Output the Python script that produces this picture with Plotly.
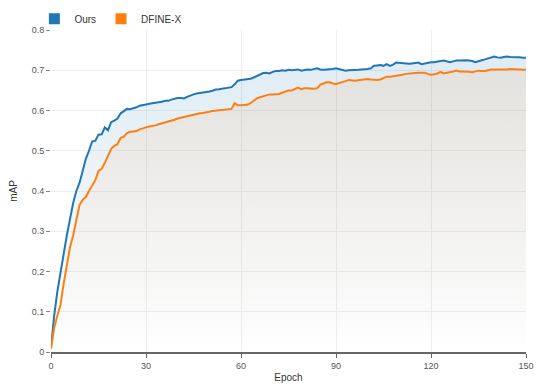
import plotly.graph_objects as go

# epochs 0..150
epochs = list(range(151))

ours = [
    0.010, 0.090, 0.150, 0.200, 0.250, 0.290, 0.330, 0.370, 0.400, 0.420,
    0.450, 0.480, 0.500, 0.523, 0.525, 0.540, 0.541, 0.558, 0.551, 0.571,
    0.575, 0.580, 0.593, 0.598, 0.604, 0.603, 0.605, 0.608, 0.612, 0.613,
    0.615, 0.617, 0.618, 0.620, 0.621, 0.622, 0.624, 0.624, 0.627, 0.629,
    0.631, 0.631, 0.630, 0.634, 0.638, 0.640, 0.642, 0.643, 0.645, 0.646,
    0.647, 0.649, 0.652, 0.653, 0.654, 0.655, 0.656, 0.658, 0.665, 0.674,
    0.676, 0.677, 0.678, 0.679, 0.682, 0.685, 0.688, 0.693, 0.694, 0.692,
    0.696, 0.698, 0.698, 0.700, 0.699, 0.701, 0.700, 0.701, 0.702, 0.699,
    0.700, 0.702, 0.701, 0.703, 0.705, 0.702, 0.701, 0.702, 0.702, 0.703,
    0.705, 0.703, 0.701, 0.699, 0.700, 0.700, 0.700, 0.701, 0.702, 0.702,
    0.703, 0.705, 0.711, 0.712, 0.713, 0.711, 0.715, 0.711, 0.714, 0.719,
    0.718, 0.717, 0.717, 0.716, 0.717, 0.718, 0.719, 0.715, 0.717, 0.718,
    0.720, 0.720, 0.722, 0.723, 0.724, 0.722, 0.720, 0.722, 0.724, 0.724,
    0.725, 0.725, 0.724, 0.723, 0.720, 0.723, 0.725, 0.727, 0.729, 0.732,
    0.734, 0.732, 0.731, 0.733, 0.734, 0.733, 0.733, 0.732, 0.732, 0.731,
    0.731,
]

dfine_x = [
    0.008, 0.060, 0.090, 0.117, 0.170, 0.216, 0.260, 0.290, 0.324, 0.365,
    0.378, 0.385, 0.400, 0.415, 0.427, 0.450, 0.455, 0.470, 0.489, 0.505,
    0.512, 0.516, 0.532, 0.535, 0.544, 0.547, 0.548, 0.549, 0.553, 0.556,
    0.558, 0.560, 0.561, 0.563, 0.566, 0.568, 0.570, 0.572, 0.575, 0.577,
    0.580, 0.582, 0.584, 0.585, 0.588, 0.590, 0.592, 0.593, 0.594, 0.595,
    0.597, 0.599, 0.600, 0.601, 0.601, 0.602, 0.603, 0.604, 0.618, 0.613,
    0.613, 0.613, 0.614, 0.618, 0.625, 0.630, 0.633, 0.635, 0.638, 0.640,
    0.640, 0.641, 0.641, 0.644, 0.647, 0.650, 0.650, 0.654, 0.657, 0.653,
    0.655, 0.655, 0.654, 0.654, 0.655, 0.664, 0.667, 0.670, 0.670, 0.667,
    0.666, 0.668, 0.670, 0.673, 0.676, 0.675, 0.674, 0.675, 0.676, 0.677,
    0.678, 0.677, 0.676, 0.676, 0.677, 0.681, 0.684, 0.684, 0.685, 0.686,
    0.687, 0.689, 0.691, 0.692, 0.693, 0.694, 0.694, 0.694, 0.694, 0.691,
    0.689, 0.690, 0.692, 0.696, 0.692, 0.694, 0.695, 0.697, 0.699, 0.697,
    0.697, 0.697, 0.696, 0.695, 0.697, 0.699, 0.698, 0.698, 0.700, 0.702,
    0.702, 0.702, 0.701, 0.701, 0.702, 0.703, 0.703, 0.702, 0.702, 0.701,
    0.701,
]

blue = '#1f77b4'
orange = '#ff7f0e'

fig = go.Figure()

fig.add_trace(go.Scatter(
    x=epochs, y=ours, mode='lines', name='Ours', showlegend=False,
    line=dict(color=blue, width=2),
    fill='tozeroy',
    fillgradient=dict(type='vertical', start=0, stop=0.73,
                      colorscale=[[0, 'rgba(31,119,180,0.0)'],
                                  [1, 'rgba(31,119,180,0.14)']]),
))
fig.add_trace(go.Scatter(
    x=epochs, y=dfine_x, mode='lines', name='DFINE-X', showlegend=False,
    line=dict(color=orange, width=2),
    fill='tozeroy',
    fillgradient=dict(type='vertical', start=0, stop=0.70,
                      colorscale=[[0, 'rgba(255,127,14,0.0)'],
                                  [1, 'rgba(255,127,14,0.10)']]),
))

# legend entries as square swatches
for name, col in [('Ours', blue), ('DFINE-X', orange)]:
    fig.add_trace(go.Scatter(
        x=[None], y=[None], mode='markers', name=name,
        marker=dict(symbol='square', size=11, color=col),
    ))

# page body adds an 8px offset, margins are shifted to compensate
fig.update_layout(
    width=556, height=391,
    margin=dict(l=43, r=38, t=22, b=47, autoexpand=False),
    paper_bgcolor='white', plot_bgcolor='white',
    font=dict(family='Liberation Sans, Arial, sans-serif', size=10, color='#333'),
    legend=dict(orientation='h', x=-0.035, y=0.99, xanchor='left', yanchor='bottom',
                font=dict(size=10, color='#333'), itemclick=False,
                bgcolor='rgba(0,0,0,0)'),
)

fig.update_xaxes(
    range=[0, 150], tickvals=[0, 30, 60, 90, 120, 150],
    showgrid=True, gridcolor='#eeeeee', zeroline=False,
    showline=True, linecolor='#666', linewidth=1.5,
    ticks='outside', ticklen=4, tickcolor='#666',
    tickfont=dict(size=9, color='#555'),
    title=dict(text='Epoch', font=dict(size=10, color='#333'), standoff=4),
)
fig.update_yaxes(
    range=[0, 0.8], dtick=0.1,
    showgrid=True, gridcolor='#eeeeee', zeroline=False,
    showline=False,
    ticks='outside', ticklen=4, tickcolor='#888',
    tickfont=dict(size=9, color='#555'),
    title=dict(text='mAP', font=dict(size=10, color='#333'), standoff=12),
)

fig.write_html("out.html")
